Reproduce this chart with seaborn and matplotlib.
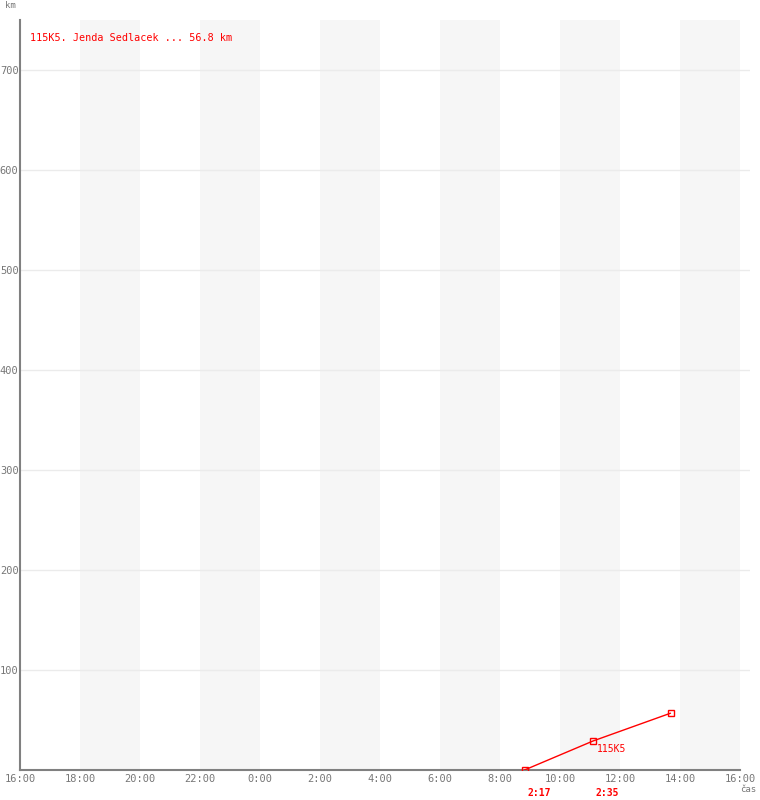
import pandas as pd
import matplotlib.pyplot as plt
import seaborn as sns

# Checkpoints of the route
times = ['8:49', '11:06', '13:41']
km = [0, 29, 56.8]
leg_labels = ['2:17', '2:35']
point_labels = ['', '115K5', '']
title = '115K5. Jenda Sedlacek ... 56.8 km'

x_ticks = ['16:00', '18:00', '20:00', '22:00', '0:00', '2:00', '4:00', '6:00',
           '8:00', '10:00', '12:00', '14:00', '16:00']
y_ticks = [100, 200, 300, 400, 500, 600, 700]


def to_hours(t):
    # hours since 16:00 the day before
    h, m = t.split(':')
    v = int(h) + int(m) / 60 - 16
    return v + 24 if v < 0 else v


df = pd.DataFrame({'t': [to_hours(t) for t in times], 'km': km})

sns.set_style('white')
plt.rcParams['font.family'] = ['DejaVu Sans Mono', 'DejaVu Sans']

fig = plt.figure(figsize=(7.6, 8), dpi=100)
ax = fig.add_axes([20 / 760, 30 / 800, 730 / 760, 750 / 800])

# alternating background bands, every other two hours
for start in range(2, 24, 4):
    ax.axvspan(start, start + 2, color='#f6f6f6', lw=0, zorder=0)

for y in y_ticks:
    ax.axhline(y, color='#ebebeb', lw=1, zorder=1)

sns.lineplot(data=df, x='t', y='km', color='red', lw=1, marker='s',
             markersize=4.5, markerfacecolor='none', markeredgecolor='red',
             markeredgewidth=1, ax=ax, zorder=3)

for i, lab in enumerate(point_labels):
    if lab:
        ax.annotate(lab, (df.t[i], df.km[i]), xytext=(3, -2), textcoords='offset points',
                    ha='left', va='top', color='red', fontsize=7)

for i, lab in enumerate(leg_labels):
    ax.annotate(lab, (df.t[i], 0), xytext=(2, -13), textcoords='offset points',
                ha='left', va='top', color='red', fontsize=7, fontweight='bold',
                annotation_clip=False)

ax.set_xlim(0, 24 + 10 / 30)
ax.set_ylim(0, 750)
ax.set_xticks(range(0, 25, 2))
ax.set_xticklabels(x_ticks)
ax.set_yticks(y_ticks)
ax.tick_params(axis='both', length=0, labelsize=7.5, labelcolor='#777777', pad=3)
ax.tick_params(axis='y', pad=1)
ax.set_xlabel('')
ax.set_ylabel('')

for side in ['top', 'right']:
    ax.spines[side].set_visible(False)
for side in ['left', 'bottom']:
    ax.spines[side].set_color('#808080')
    ax.spines[side].set_linewidth(1.5)
ax.spines['bottom'].set_bounds(0, 24)

ax.text(10 / 730, 1 - 18 / 750, title, transform=ax.transAxes, color='red',
        fontsize=7.3, ha='left', va='center')
fig.text(5 / 760, 1 - 6 / 800, 'km', color='#777777', fontsize=6.5, ha='left', va='center')
fig.text(748 / 760, 1 - 790 / 800, 'čas', color='#777777', fontsize=6.5, ha='center', va='center')

plt.savefig('out.png', dpi=100)
plt.close()
